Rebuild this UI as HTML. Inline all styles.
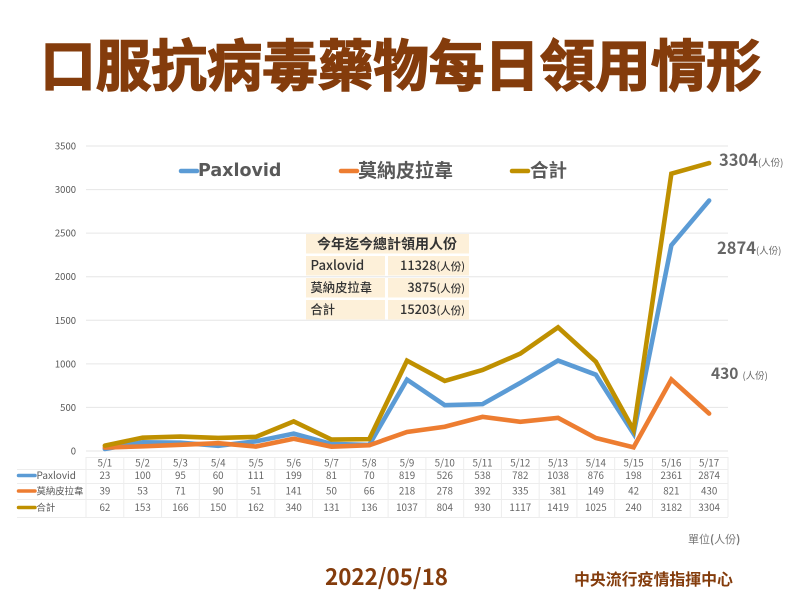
<!DOCTYPE html>
<html lang="zh-Hant">
<head>
<meta charset="utf-8">
<title>口服抗病毒藥物每日領用情形</title>
<style>
html,body{margin:0;padding:0;background:#fff;}
body{width:800px;height:600px;overflow:hidden;}
svg{display:block;}
text{font-family:"Liberation Sans","Noto Sans CJK TC",sans-serif;}
.n{font-family:"Noto Sans CJK TC","DejaVu Sans",sans-serif;}
</style>
</head>
<body>
<svg id="chart" xmlns="http://www.w3.org/2000/svg" width="800" height="600" viewBox="0 0 800 600">
  <text x="401" y="86" text-anchor="middle" font-size="55.500" font-weight="700" fill="#843c0c" stroke="#843c0c" stroke-width="1.4" style="font-family:'Noto Sans CJK TC',sans-serif">口服抗病毒藥物每日領用情形</text>
  <g id="grid"></g>
  <g id="yticks"></g>
  <g id="tbl"></g>
  <g id="lines"></g>

  <g>
    <g>
      <line x1="181" y1="171" x2="197" y2="171" stroke="#5b9bd5" stroke-width="4.5" stroke-linecap="round"/>
      <text x="198" y="176" font-size="17.5" font-weight="700" fill="#595959" style="font-family:'DejaVu Sans',sans-serif">Paxlovid</text>
    </g>
    <g>
      <line x1="341" y1="171" x2="357" y2="171" stroke="#ed7d31" stroke-width="4.5" stroke-linecap="round"/>
      <text class="n" x="358" y="177" font-size="19" font-weight="700" fill="#595959">莫納皮拉韋</text>
    </g>
    <g>
      <line x1="512" y1="171" x2="528" y2="171" stroke="#bf9000" stroke-width="4.5" stroke-linecap="round"/>
      <text class="n" x="530" y="177" font-size="18.5" font-weight="700" fill="#595959">合計</text>
    </g>
  </g>

  <g font-weight="500" fill="#333">
    <rect x="306" y="234" width="163" height="19.5" fill="#fdf0d9"/>
    <rect x="306" y="256" width="79" height="19.5" fill="#fdf0d9"/>
    <rect x="388" y="256" width="81" height="19.5" fill="#fdf0d9"/>
    <rect x="306" y="278" width="79" height="19.5" fill="#fdf0d9"/>
    <rect x="388" y="278" width="81" height="19.5" fill="#fdf0d9"/>
    <rect x="306" y="300" width="79" height="19.5" fill="#fdf0d9"/>
    <rect x="388" y="300" width="81" height="19.5" fill="#fdf0d9"/>
    <text class="n" x="387" y="249" text-anchor="middle" font-size="14" font-weight="700">今年迄今總計領用人份</text>
    <text class="n" x="310.500" y="270" font-size="13.200">Paxlovid</text>
    <text class="n" x="310.500" y="292" font-size="12.300">莫納皮拉韋</text>
    <text class="n" x="310.500" y="314" font-size="12.300">合計</text>
    <text class="n" x="465" y="270" text-anchor="end" font-size="12.800">11328<tspan font-size="10.500">(人份)</tspan></text>
    <text class="n" x="465" y="292" text-anchor="end" font-size="12.800">3875<tspan font-size="10.500">(人份)</tspan></text>
    <text class="n" x="465" y="314" text-anchor="end" font-size="12.800">15203<tspan font-size="10.500">(人份)</tspan></text>
  </g>

  <text class="n" x="719" y="166" font-size="16.500" font-weight="700" fill="#666">3304<tspan font-size="9.500" font-weight="400">(人份)</tspan></text>
  <text class="n" x="717" y="254" font-size="16.500" font-weight="700" fill="#666">2874<tspan font-size="9.500" font-weight="400">(人份)</tspan></text>
  <text class="n" x="711" y="379" font-size="15.500" font-weight="700" fill="#666">430<tspan font-size="9.500" font-weight="400" dx="4">(人份)</tspan></text>

  <text class="n" x="688" y="543" font-size="11" fill="#777">單位<tspan font-weight="700">(</tspan>人份<tspan font-weight="700">)</tspan></text>
  <text class="n" x="325" y="585" font-size="22.400" font-weight="700" fill="#843c0c">2022/05/18</text>
  <text class="n" x="574" y="585" font-size="15.900" font-weight="700" fill="#843c0c">中央流行疫情指揮中心</text>
</svg>
<script>
var categories = ["5/1","5/2","5/3","5/4","5/5","5/6","5/7","5/8","5/9","5/10","5/11","5/12","5/13","5/14","5/15","5/16","5/17"];
var paxlovid = [23,100,95,60,111,199,81,70,819,526,538,782,1038,876,198,2361,2874];
var molnupiravir = [39,53,71,90,51,141,50,66,218,278,392,335,381,149,42,821,430];
var total = [62,153,166,150,162,340,131,136,1037,804,930,1117,1419,1025,240,3182,3304];
var yTicks = [0,500,1000,1500,2000,2500,3000,3500];
var seriesNames = ["Paxlovid","莫納皮拉韋","合計"];

var NS = "http://www.w3.org/2000/svg";
var plotLeft = 86, plotRight = 728, colW = (plotRight - plotLeft) / categories.length;
function xAt(i){ return plotLeft + colW * (i + 0.5); }
function yAt(v){ return 451 - v * (305 / 3500); }
function mk(parent, tag, attrs, txt){
  var el = document.createElementNS(NS, tag);
  for (var k in attrs) el.setAttribute(k, attrs[k]);
  if (txt !== undefined) el.textContent = txt;
  parent.appendChild(el);
  return el;
}

var grid = document.getElementById("grid");
var yt = document.getElementById("yticks");
yTicks.forEach(function(t){
  var gl = mk(grid, "line", {x1:plotLeft, x2:plotRight, y1:yAt(t), y2:yAt(t), stroke:"#e6e6e6", "stroke-width":1});
  
  
  var tl = mk(yt, "text", {x:76, y:yAt(t)+3.5, "text-anchor":"end", "font-size":9.5, fill:"#595959", "class":"n"}, String(t));
  
  
});

var tbl = document.getElementById("tbl");
var rowY = [457, 469, 483, 499, 517];
var tableLeft = 17;
rowY.forEach(function(y, r){
  var x0 = r === 0 ? plotLeft : tableLeft;
  var rl = mk(tbl, "line", {x1:x0, x2:plotRight, y1:y+0.5, y2:y+0.5, stroke:"#ededed", "stroke-width":1});
  
  
});
for (var c = 0; c <= categories.length; c++) {
  var cx = plotLeft + colW * c;
  var cl = mk(tbl, "line", {x1:cx, x2:cx, y1:457, y2:517, stroke:"#ededed", "stroke-width":1});
  
  
}
var rowText = [479, 494.500, 511];
var rows = [paxlovid, molnupiravir, total];
var colors = ["#5b9bd5", "#ed7d31", "#bf9000"];
categories.forEach(function(cat, i){
  var h = mk(tbl, "text", {x:xAt(i), y:466.500, "text-anchor":"middle", "font-size":9.8, fill:"#666", "class":"n"}, cat);
  
  
  rows.forEach(function(vals, r){
    var cell = mk(tbl, "text", {x:xAt(i), y:rowText[r], "text-anchor":"middle", "font-size":9.8, fill:"#666", "class":"n"}, String(vals[i]));
    
    
  });
});
seriesNames.forEach(function(name, r){
  var y = rowText[r];
  var key = mk(tbl, "line", {x1:18.500, x2:35, y1:y-3.5, y2:y-3.5, stroke:colors[r], "stroke-width":3.5, "stroke-linecap":"round"});
  
  
  var nm = mk(tbl, "text", {x:36.500, y:y, "font-size":r === 0 ? 10 : 9.4, fill:"#595959", "class":"n"}, name);
  
  
});

var linesG = document.getElementById("lines");
[paxlovid, molnupiravir, total].forEach(function(vals, r){
  var pts = vals.map(function(v, i){ return xAt(i).toFixed(2) + "," + yAt(v).toFixed(2); }).join(" ");
  var pl = mk(linesG, "polyline", {points:pts, fill:"none", stroke:colors[r], "stroke-width":4.6, "stroke-linejoin":"miter", "stroke-linecap":"round"});
  
  
});
</script>
</body>
</html>
